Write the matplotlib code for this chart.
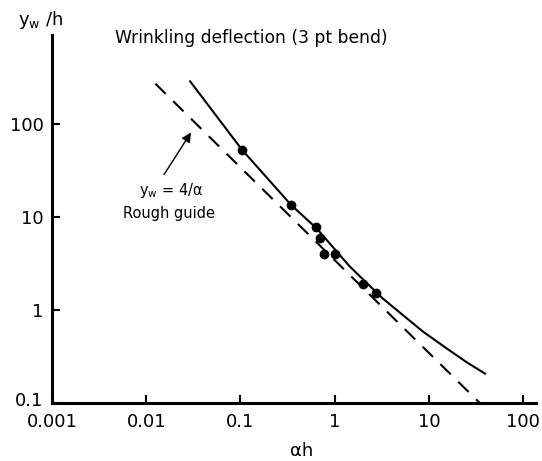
import matplotlib
matplotlib.use("Agg")
import matplotlib.pyplot as plt
from matplotlib.transforms import ScaledTranslation

# measured points, y_w/h vs alpha*h
pts_x = [0.1045, 0.347, 0.64, 0.693, 0.777, 1.0, 2.0, 2.77]
pts_y = [52.5, 13.4, 7.76, 5.96, 4.02, 4.05, 1.89, 1.53]

# solid curve
curve_x = [0.0288, 0.1045, 0.347, 0.64, 1.44, 3.24, 8.67, 15.4, 25.1, 40.3]
curve_y = [294.0, 52.5, 13.4, 7.6, 2.95, 1.33, 0.585, 0.387, 0.275, 0.204]

# rough guide y_w = 4/alpha (dashed)
guide_x = [0.0125, 34.7]
guide_y = [272.0, 0.1]

xticks = [0.001, 0.01, 0.1, 1, 10, 100]
xtick_labels = ["0.001", "0.01", "0.1", "1", "10", "100"]
yticks = [0.1, 1, 10, 100]
ytick_labels = ["0.1", "1", "10", "100"]


def main():
	plt.rcParams['font.family'] = ['DejaVu Sans']
	fig = plt.figure(figsize=(5.42, 4.61), dpi=100)
	ax = fig.add_axes([0.0959, 0.1258, 0.8925, 0.7982])

	ax.plot(curve_x, curve_y, color='black', lw=1.5, solid_capstyle='butt')
	ax.plot(guide_x, guide_y, color='black', lw=1.5, dashes=(7, 5))
	ax.plot(pts_x, pts_y, 'o', color='black', markersize=6)

	ax.set_xscale('log')
	ax.set_yscale('log')
	ax.set_xlim(0.001, 136)
	ax.set_ylim(0.1, 906)

	ax.set_xticks(xticks)
	ax.set_xticklabels(xtick_labels)
	ax.set_yticks(yticks)
	ax.set_yticklabels(ytick_labels)
	ax.minorticks_off()
	ax.tick_params(direction='in', length=6, width=1.5, labelsize=13, colors='black')
	ax.tick_params(axis='x', pad=7)
	ax.tick_params(axis='y', pad=6)
	# lift the bottom y label a little so it clears 0.001
	lab = ax.get_yticklabels()[0]
	lab.set_transform(lab.get_transform() + ScaledTranslation(0, 3 / 72, fig.dpi_scale_trans))

	for s in ['top', 'right']:
		ax.spines[s].set_visible(False)
	for s in ['left', 'bottom']:
		ax.spines[s].set_linewidth(2.2)

	fig.text(115 / 542, 1 - 38 / 461, "Wrinkling deflection (3 pt bend)",
		fontsize=12.3, va='center', ha='left')
	fig.text(18 / 542, 1 - 20 / 461, r"$\mathrm{y_w}$ /h", fontsize=13,
		va='center', ha='left')
	fig.text(302 / 542, 1 - 451 / 461, "αh", fontsize=13, ha='center', va='center')

	ax.annotate("", xy=(0.031, 86), xytext=(0.0149, 27),
		arrowprops=dict(arrowstyle='-|>', color='black', lw=1, mutation_scale=14))
	fig.text(171 / 542, 1 - 190 / 461, r"$\mathrm{y_w}$ = 4/α", fontsize=10.5,
		ha='center', va='center')
	fig.text(169 / 542, 1 - 213 / 461, "Rough guide", fontsize=10.5,
		ha='center', va='center')

	fig.savefig("out.png", dpi=100)
	plt.close()

main()
